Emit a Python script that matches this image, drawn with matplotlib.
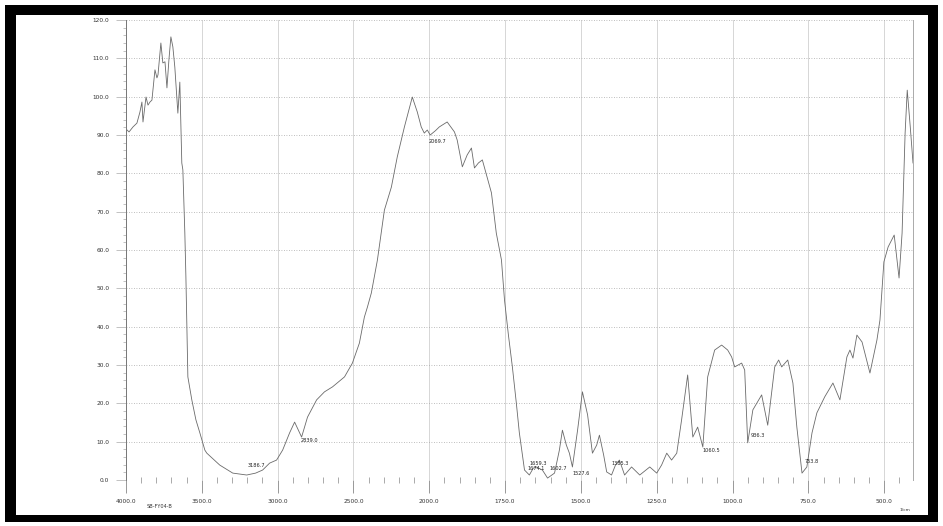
import numpy as np
import matplotlib
matplotlib.use("Agg")
from matplotlib import pyplot as plt
from matplotlib.patches import Rectangle
from matplotlib.ticker import FixedLocator, FormatStrFormatter

# IR spectrum: wavenumber (1/cm) and %T
wavenumber = [3993, 3980, 3954, 3928, 3908, 3895, 3888, 3868, 3855, 3842,
              3829, 3809, 3796, 3789, 3770, 3757, 3743, 3730, 3717, 3704,
              3691, 3678, 3658, 3645, 3632, 3625, 3612, 3605, 3592, 3566,
              3539, 3513, 3480, 3467, 3382, 3296, 3204, 3145, 3099, 3053,
              3007, 2967, 2921, 2888, 2842, 2803, 2743, 2691, 2638, 2559,
              2507, 2461, 2428, 2408, 2382, 2342, 2296, 2250, 2211, 2164,
              2112, 2079, 2053, 2033, 2013, 1997, 1980, 1967, 1941, 1917,
              1908, 1891, 1875, 1861, 1851, 1838, 1825, 1795, 1779, 1762,
              1752, 1739, 1726, 1713, 1703, 1686, 1670, 1657, 1647, 1627,
              1610, 1587, 1571, 1561, 1548, 1538, 1528, 1511, 1495, 1478,
              1462, 1448, 1439, 1425, 1415, 1399, 1386, 1373, 1356, 1333,
              1306, 1273, 1250, 1234, 1217, 1201, 1184, 1168, 1148, 1131,
              1115, 1098, 1082, 1059, 1036, 1016, 1003, 993, 970, 960,
              950, 933, 904, 884, 861, 848, 838, 818, 801, 788,
              771, 755, 738, 722, 696, 669, 646, 623, 613, 603,
              590, 573, 547, 524, 514, 501, 487, 467, 451, 441,
              431, 424, 414, 405]
transmittance = [91.3, 90.8, 92.1, 93.1, 96.0, 98.6, 93.4, 99.9, 97.8, 98.6,
                 99.1, 107.0, 104.9, 105.7, 114.0, 108.8, 109.1, 102.3, 109.6, 115.6,
                 113.0, 107.7, 95.7, 103.8, 82.7, 80.9, 64.4, 53.0, 26.9, 20.9,
                 15.7, 12.3, 7.8, 7.0, 3.9, 1.8, 1.3, 1.8, 2.6, 4.4,
                 5.2, 7.8, 12.3, 15.1, 11.2, 16.4, 20.9, 23.0, 24.3, 26.9,
                 30.5, 35.7, 42.5, 45.1, 48.8, 57.4, 70.4, 76.4, 84.3, 92.1,
                 99.9, 96.0, 92.1, 90.5, 91.3, 90.0, 91.1, 92.1, 93.4, 90.8,
                 88.7, 81.7, 84.8, 86.6, 81.4, 82.7, 83.5, 74.9, 64.4, 57.4,
                 47.0, 37.8, 29.5, 20.1, 12.3, 2.6, 1.3, 3.1, 3.4, 2.6,
                 0.5, 1.8, 7.8, 13.0, 9.1, 7.0, 3.4, 13.0, 23.0, 17.0,
                 7.0, 9.1, 11.7, 6.5, 2.1, 1.3, 3.9, 5.2, 1.3, 3.4,
                 1.3, 3.4, 1.8, 3.9, 7.0, 5.2, 7.0, 15.7, 27.4, 11.2,
                 13.8, 8.6, 26.9, 33.9, 35.2, 33.9, 32.1, 29.5, 30.5, 28.7,
                 9.7, 18.3, 22.2, 14.3, 29.5, 31.3, 29.5, 31.3, 25.3, 13.8,
                 1.8, 3.4, 12.3, 17.5, 21.7, 25.3, 20.9, 32.1, 33.9, 31.8,
                 37.8, 36.0, 27.9, 36.5, 41.7, 56.9, 60.8, 63.9, 52.7, 64.4,
                 90.5, 101.7, 92.1, 82.7]

# peak labels: text, where the label sits (wavenumber, %T)
peak_text = ["3186.7", "2839.0", "2069.7", "1659.3", "1674.1", "1602.7",
             "1527.6", "1385.3", "1060.5", "936.3", "753.8"]
peak_x = [3197, 2849, 2006, 1670, 1676, 1604, 1528, 1399, 1098, 940, 762]
peak_y = [3.9, 10.2, 88.2, 4.2, 2.9, 3.1, 1.8, 4.4, 7.8, 11.5, 4.7]

x_major = [4000, 3500, 3000, 2500, 2000, 1750, 1500, 1250, 1000, 750, 500]
x_minor = list(range(3900, 2000, -100)) + list(range(1950, 400, -50))
y_major = list(range(0, 121, 10))
y_minor = list(range(0, 121, 2))


# chart paper: 500 1/cm per division above 2000, 250 per division below
def fwd(w):
    w = np.asarray(w, dtype=float)
    return np.where(w >= 2000, w / 500.0, w / 250.0 - 4.0)


def inv(u):
    u = np.asarray(u, dtype=float)
    return np.where(u >= 4, u * 500.0, (u + 4.0) * 250.0)


W, H = 943, 526
fig = plt.figure(figsize=(W / 100, H / 100), dpi=100)
ax = fig.add_axes([126 / W, 1 - 480 / H, (913 - 126) / W, (480 - 20) / H])

ax.set_xscale('function', functions=(fwd, inv))
ax.set_xlim(4000, 405)
ax.set_ylim(0, 120)

ax.plot(wavenumber, transmittance, color='#6a6a6a', lw=0.6)

for t, px, py in zip(peak_text, peak_x, peak_y):
    ax.text(px, py, t, fontsize=3.6, color='#222222', ha='left', va='center')

ax.xaxis.set_major_locator(FixedLocator(x_major))
ax.xaxis.set_minor_locator(FixedLocator(x_minor))
ax.yaxis.set_major_locator(FixedLocator(y_major))
ax.yaxis.set_minor_locator(FixedLocator(y_minor))
ax.xaxis.set_major_formatter(FormatStrFormatter('%.1f'))
ax.yaxis.set_major_formatter(FormatStrFormatter('%.1f'))

ax.tick_params(axis='x', which='major', length=9, width=0.6, color='#888888',
               labelsize=4.2, labelcolor='#333333', pad=5)
ax.tick_params(axis='x', which='minor', direction='inout', length=5, width=0.5, color='#888888')
ax.tick_params(axis='y', which='major', length=7, width=0.5, color='#aaaaaa',
               labelsize=4.2, labelcolor='#333333', pad=5)
ax.tick_params(axis='y', which='minor', length=2.5, width=0.5, color='#aaaaaa')

ax.yaxis.grid(True, which='major', linestyle=(0, (1.0, 2.0)), color='#a8a8a8', lw=0.6)
ax.xaxis.grid(True, which='major', linestyle='-', color='#d0d0d0', lw=0.6)

ax.spines['top'].set_visible(False)
ax.spines['bottom'].set_visible(False)
ax.spines['left'].set_color('#777777')
ax.spines['left'].set_linewidth(0.7)
ax.spines['right'].set_color('#aaaaaa')
ax.spines['right'].set_linewidth(0.7)

fig.text(905 / W, 1 - 510 / H, '1/cm', fontsize=3.2, color='#333333', ha='center', va='center')
fig.text(147 / W, 1 - 507 / H, 'SB-FY04-B', fontsize=3.6, color='#333333', ha='left', va='center')


# black scan border
def black_bar(x0, y0, x1, y1):
    fig.add_artist(Rectangle((x0 / W, 1 - y1 / H), (x1 - x0) / W, (y1 - y0) / H,
                             transform=fig.transFigure, color='black', lw=0))


black_bar(5, 5, 938, 15)
black_bar(5, 5, 16, 522)
black_bar(928, 5, 938, 522)
black_bar(5, 515, 938, 522)

fig.savefig('out.png', dpi=100)
